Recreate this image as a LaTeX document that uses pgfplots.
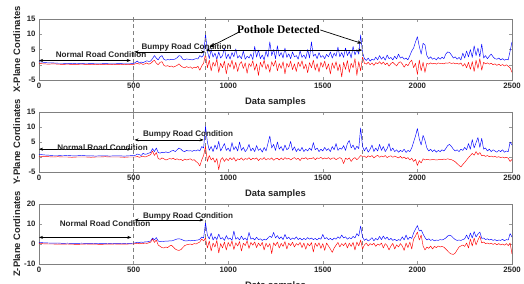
\documentclass[border=0pt]{standalone}
\usepackage{pgfplots}
\pgfplotsset{compat=1.18}
\usepackage{pgfplotstable}
\usepackage{fontspec}
\setmainfont{Liberation Sans}
\newfontfamily\timesfont{Liberation Serif}
\usetikzlibrary{arrows.meta}

\pgfplotstableread{
x xb xr yb yr zb zr
0 1.0 0.4 0.9 0.2 0.8 0.3
25 0.8 0.3 0.7 0.1 0.6 0.1
50 0.6 0.2 0.6 0.1 0.5 0.0
75 0.6 0.3 0.5 0.0 0.4 0.0
100 0.5 0.2 0.5 0.1 0.5 -0.1
125 0.5 0.1 0.4 0.0 0.3 -0.1
150 0.4 0.2 0.5 0.0 0.4 0.0
175 0.4 0.1 0.4 -0.1 0.3 -0.1
200 0.5 0.1 0.4 0.0 0.3 -0.2
225 0.4 0.2 0.5 0.0 0.4 -0.1
250 0.3 0.1 0.4 0.0 0.3 0.0
275 0.4 0.1 0.4 -0.1 0.3 -0.1
300 0.3 0.0 0.3 0.0 0.2 -0.1
325 0.3 0.1 0.4 0.0 0.3 -0.2
350 0.4 0.1 0.4 0.1 0.3 -0.1
375 0.3 0.0 0.3 0.0 0.2 -0.1
400 0.3 0.1 0.4 0.0 0.3 0.0
425 0.4 0.1 0.4 0.0 0.3 -0.1
450 0.3 0.0 0.3 -0.1 0.2 -0.1
475 0.3 0.1 0.4 0.0 0.3 0.0
500 0.4 0.1 0.5 0.0 0.4 0.0
510 0.8 0.3 0.6 0.0 0.6 0.2
520 1.2 0.5 1.0 0.2 0.9 0.4
530 0.6 0.2 0.8 -0.1 0.7 0.1
540 0.9 0.4 0.5 0.1 1.0 0.3
550 0.7 0.1 1.2 0.3 0.8 0.2
560 1.0 0.3 0.9 0.0 1.1 0.5
570 1.3 0.6 1.0 0.2 1.0 0.3
580 1.1 0.2 1.3 0.5 1.3 0.6
590 1.2 0.4 1.5 0.8 1.5 0.9
600 2.0 1.0 2.8 2.0 3.0 2.5
610 3.0 1.5 1.8 0.5 2.0 0.8
620 2.2 0.5 3.0 1.5 3.2 2.0
630 1.6 0.0 1.5 -0.5 1.5 -0.5
640 2.6 0.8 1.3 -0.8 1.2 -1.2
650 3.0 1.0 1.6 -0.3 1.4 -1.8
660 1.8 -0.2 1.4 -0.6 1.3 -2.0
670 1.5 -0.5 1.7 -1.0 1.5 -1.5
680 1.7 -0.3 1.5 -0.8 1.4 -1.8
690 1.6 -0.6 1.6 -0.5 1.6 -1.0
700 1.8 -0.4 2.0 -0.7 1.5 -0.6
710 1.7 -0.8 2.2 -0.4 1.8 -1.5
720 1.9 -0.5 1.8 -0.9 2.2 -2.5
730 2.3 -0.2 2.4 -0.6 2.5 -3.0
740 3.0 0.3 3.0 -1.0 2.6 -3.2
750 2.8 -0.4 2.6 -0.8 2.4 -2.8
760 1.8 -0.8 2.0 -1.2 2.0 -1.8
770 1.6 -1.0 1.8 -0.7 1.6 -0.8
780 1.9 -0.6 2.2 -1.0 1.5 -0.4
790 1.8 -0.9 2.0 -0.8 1.7 -0.2
800 1.7 -0.7 2.1 -0.6 1.6 0.0
810 1.6 -1.2 1.9 -1.1 1.8 -0.3
820 1.8 -0.8 2.2 -0.9 1.7 0.2
830 2.0 -1.0 2.0 -1.5 1.9 0.0
840 1.9 -0.5 2.4 -2.0 2.0 0.5
850 3.0 -1.8 2.0 -3.0 2.4 1.0
860 2.5 -0.4 3.5 -1.0 3.5 2.5
870 3.2 0.5 3.0 0.5 3.0 1.5
880 10.0 3.5 10.2 3.5 10.5 3.0
890 4.5 -1.0 5.0 -1.5 4.5 -2.0
900 2.0 1.5 2.2 0.5 2.5 1.5
910 5.0 -2.0 3.5 -1.0 5.5 -3.5
920 2.5 0.8 1.8 -0.3 2.0 0.5
930 3.8 -0.5 4.0 -1.8 3.6 -1.5
940 1.8 1.8 2.5 -0.5 2.2 1.8
950 4.2 -2.5 5.2 -4.2 5.0 -4.5
960 2.2 0.5 2.0 -1.0 2.5 0.2
970 3.0 -1.0 3.2 -0.2 3.2 -2.0
980 5.5 1.2 4.5 -1.5 1.8 1.0
990 2.0 -3.0 2.2 -0.5 4.2 -3.0
1000 3.5 0.5 3.0 -1.2 2.4 0.8
1010 1.8 -0.8 1.8 -0.3 3.0 -1.2
1020 4.0 1.5 4.8 -0.9 1.8 1.5
1030 2.6 -1.5 2.4 -0.2 6.5 -2.8
1040 5.2 0.8 3.5 -1.4 2.4 0.6
1050 2.2 -2.2 2.0 -0.6 3.2 -1.0
1060 3.0 0.2 5.0 -0.9 2.0 1.2
1070 2.0 1.0 2.2 -0.3 4.0 -3.5
1080 4.5 -1.2 3.2 -1.1 2.2 0.4
1090 1.8 0.6 1.8 -0.5 3.0 -0.8
1100 2.8 -2.8 2.6 -0.8 1.8 1.6
1110 2.2 0.4 4.2 -0.2 5.8 -2.2
1120 3.5 -0.6 2.0 -1.0 2.4 0.8
1130 1.7 1.3 3.0 -0.4 3.0 -0.6
1140 6.0 -1.8 1.8 -0.7 2.0 1.0
1150 2.5 0.3 3.8 -0.3 3.4 -1.8
1160 4.8 -3.5 2.2 -1.2 2.2 0.5
1170 2.0 0.8 2.8 -0.5 2.6 -1.0
1180 3.2 -0.8 1.6 -0.8 1.8 0.8
1190 1.6 1.5 3.2 -0.2 2.4 -3.0
1200 4.5 -1.5 2.0 -1.0 2.0 0.4
1210 2.5 0.2 4.5 -0.5 3.0 -1.5
1220 7.5 -2.5 7.0 -0.8 4.0 0.2
1230 3.0 1.0 3.0 -0.3 3.2 -4.8
1240 5.0 -0.5 4.2 -1.1 5.8 0.6
1250 2.0 1.4 2.2 -0.6 3.0 -0.8
1260 6.2 -2.0 5.0 -0.4 4.2 1.0
1270 2.8 0.4 2.6 -1.0 2.6 -2.0
1280 4.0 -1.2 3.5 -0.3 3.6 0.3
1290 2.2 1.0 2.0 -0.9 2.2 -1.2
1300 5.5 -3.0 4.0 -0.2 4.8 1.2
1310 2.4 0.5 2.4 -0.7 2.6 -2.5
1320 3.6 -0.8 3.0 -0.4 3.4 0.4
1330 2.0 1.2 5.2 -1.0 2.2 -0.8
1340 4.2 -1.6 2.2 -0.5 3.0 0.9
1350 2.6 0.3 3.4 -0.2 2.4 -1.5
1360 3.0 -2.2 1.8 -0.8 3.6 0.2
1370 1.8 0.9 2.8 -0.4 2.2 -0.6
1380 4.6 -0.6 2.0 -1.2 3.0 0.8
1390 2.4 1.3 3.2 -0.3 2.0 -1.8
1400 3.2 -1.4 1.8 -0.6 2.8 0.5
1410 2.0 0.2 2.6 -0.2 2.2 -2.6
1420 5.0 -2.6 2.0 -0.8 3.2 0.3
1430 2.2 0.7 3.0 -0.4 2.4 -1.0
1440 7.5 -1.0 2.2 -0.6 3.0 0.7
1450 2.8 1.5 4.8 -0.2 2.2 -4.0
1460 3.5 -1.8 2.4 -0.9 2.8 0.4
1470 2.0 0.4 3.0 -0.3 2.0 -1.2
1480 4.0 -2.4 1.8 -0.5 3.0 0.6
1490 2.4 0.8 2.6 -0.1 2.4 -2.2
1500 3.0 -0.8 2.0 -0.7 4.8 0.2
1510 2.0 1.2 3.2 -0.3 2.6 -3.2
1520 3.4 -1.5 2.2 -0.6 3.2 0.5
1530 2.6 0.3 2.8 -0.2 2.2 -1.0
1540 4.2 -3.0 1.8 -0.8 2.8 -2.5
1550 2.2 0.6 3.5 -0.4 2.0 -4.2
1560 3.8 -1.2 2.4 -0.3 3.0 -2.0
1570 2.8 1.0 4.5 -0.9 2.4 -0.6
1580 5.8 -2.0 2.2 -0.5 3.6 0.8
1590 2.6 0.2 3.0 -0.2 2.8 -1.5
1600 4.0 -4.0 2.6 -0.6 4.5 0.2
1610 2.4 0.8 3.8 -2.2 3.0 -0.8
1620 5.5 -1.5 2.2 -0.4 3.6 0.6
1630 3.0 1.4 4.5 -0.8 2.4 -2.0
1640 4.4 -2.5 5.5 -0.3 3.2 0.4
1650 2.2 0.5 3.0 -1.5 2.6 -1.2
1660 6.0 -1.0 4.0 -0.6 3.8 0.8
1670 3.2 2.0 2.4 -0.2 3.0 -3.0
1680 5.0 -3.5 3.6 -0.9 5.2 1.0
1690 3.5 1.0 2.8 -0.3 4.0 -1.0
1700 9.8 -2.0 9.7 0.5 9.0 2.0
1710 4.0 2.5 3.5 0.2 3.5 -2.5
1720 2.0 0.5 2.0 0.3 1.8 -0.5
1730 1.4 0.2 3.2 -0.2 2.6 0.5
1740 2.2 0.8 1.6 0.4 1.5 -1.0
1750 1.2 0.0 2.6 0.0 2.2 0.2
1760 1.8 0.6 4.0 0.5 3.2 -0.5
1770 1.5 -0.2 1.8 -0.3 1.6 0.4
1780 2.5 0.7 3.0 0.2 2.8 -1.2
1790 1.6 0.3 2.0 0.6 2.0 0.0
1800 3.0 1.0 4.2 -0.1 3.8 -0.6
1810 1.8 0.2 2.2 0.3 2.2 0.5
1820 2.6 0.9 3.5 0.0 4.0 -2.0
1830 1.5 0.0 1.8 0.5 2.4 0.2
1840 3.2 0.6 2.8 -0.2 3.5 -0.8
1850 2.0 -0.5 4.5 0.2 2.0 -3.0
1860 2.4 0.4 2.0 0.4 2.8 -1.0
1870 1.6 0.8 3.0 -0.1 1.8 0.3
1880 2.8 0.2 1.8 0.3 2.4 -2.5
1890 1.9 -0.4 2.4 0.0 1.6 -0.4
1900 3.5 0.6 1.6 -0.3 2.2 -1.5
1910 2.2 1.0 2.2 0.2 1.8 0.2
1920 2.6 0.3 1.8 -0.4 3.6 -1.0
1930 1.8 -0.8 2.6 0.0 2.0 -3.2
1940 2.2 0.2 1.5 -0.6 4.5 0.5
1950 1.6 -0.3 2.2 -0.2 2.2 -1.8
1960 3.0 0.8 1.8 -1.0 3.5 1.0
1970 4.5 1.5 3.0 -0.4 2.8 -2.5
1980 5.5 -1.0 5.0 -1.5 5.5 2.5
1990 7.5 0.5 7.0 -0.8 7.5 4.0
2000 9.2 -3.2 9.5 -2.8 9.2 6.0
2010 6.0 1.5 6.0 -1.2 6.5 2.0
2020 3.5 -2.0 4.0 -2.0 7.0 4.5
2030 7.0 0.8 7.2 -0.6 5.0 -1.0
2040 6.5 -2.5 5.5 -1.0 3.2 -3.0
2050 3.0 0.5 3.0 -0.8 2.0 -1.5
2060 2.0 0.2 2.0 -0.9 2.6 -2.2
2070 2.6 0.6 2.6 -1.0 1.8 -1.0
2080 1.8 0.3 1.8 -0.8 2.2 -2.5
2090 2.2 0.5 2.4 -0.9 1.6 -1.2
2100 1.6 0.2 1.6 -1.0 2.0 -1.8
2110 2.4 0.6 2.2 -0.9 1.8 -1.0
2120 1.8 0.4 1.8 -0.8 2.2 -1.5
2130 2.5 0.5 2.4 -0.9 2.0 -1.2
2140 2.0 0.3 2.0 -0.7 2.4 -1.6
2150 3.5 0.6 2.8 -0.8 3.0 -2.5
2160 4.2 0.5 3.8 -0.6 4.0 -3.5
2170 4.0 0.7 4.2 -0.8 4.4 -4.5
2180 3.2 0.4 3.5 -0.9 4.0 -5.0
2190 2.2 0.6 2.6 -1.2 3.0 -5.2
2200 2.6 0.3 2.0 -1.6 2.2 -4.5
2210 1.8 0.5 2.4 -2.2 1.8 -3.0
2220 2.4 0.2 1.8 -2.8 2.0 -1.5
2230 1.6 0.6 2.6 -3.3 1.8 -1.0
2240 3.8 -0.5 2.2 -2.5 2.2 -0.5
2250 2.2 0.4 3.2 -1.8 2.6 -1.2
2260 4.5 -1.0 2.4 -1.0 4.5 0.5
2270 2.6 0.8 4.5 -0.2 2.4 -2.0
2280 5.0 -1.5 2.6 0.5 5.5 2.5
2290 2.4 1.0 5.8 1.2 3.0 -1.0
2300 6.2 -2.2 3.0 0.6 6.2 3.0
2310 3.0 1.5 4.8 1.8 3.5 -0.5
2320 5.5 -1.2 6.5 0.8 5.0 2.0
2330 2.6 2.0 3.2 1.5 6.0 4.0
2340 6.8 -1.8 6.2 0.4 2.8 0.5
2350 2.2 0.8 2.6 0.6 3.0 1.0
2360 3.0 0.3 3.0 0.2 2.2 0.2
2370 2.0 0.6 2.0 0.5 2.6 0.5
2380 2.8 0.2 2.6 0.1 2.0 0.0
2390 3.5 0.5 1.8 0.3 2.4 0.4
2400 2.6 0.0 2.4 0.0 1.8 -0.2
2410 2.0 0.3 2.0 0.2 2.2 0.3
2420 1.8 -0.2 1.6 -0.1 1.6 -0.4
2430 2.2 0.2 2.2 0.1 2.0 0.2
2440 1.6 -0.3 1.8 -0.2 1.8 -0.5
2450 2.0 0.1 2.4 0.0 2.4 0.0
2460 1.5 -0.4 1.6 -0.3 1.6 -0.6
2470 1.8 0.0 2.0 -0.1 2.2 0.2
2480 1.6 -0.5 1.8 -0.4 2.0 -0.8
2490 4.5 -1.0 5.0 -1.5 5.2 0.5
2500 7.5 -2.5 4.0 -0.8 3.5 -5.0
}\data

\pgfplotsset{
  panel/.style={
    scale only axis, width=473bp, clip=false,
    xmin=0, xmax=2500, xtick={0,500,...,2500},
    scaled ticks=false,
    axis line style={draw=black!50, line width=0.5bp},
    tick style={draw=black!40, line width=0.5bp},
    tick align=inside, major tick length=3bp,
    xtick pos=both, ytick pos=both,
    /pgf/number format/assume math mode=true,
    /pgf/number format/1000 sep={},
    ticklabel style={font=\bfseries\fontsize{7.8bp}{9bp}\selectfont, text=black!85},
    label style={font=\bfseries\fontsize{9.4bp}{10bp}\selectfont, text=black!85},
    xlabel={Data samples},
    ylabel style={at={(axis description cs:-0.047,0.5)}, anchor=center, rotate=0},
  },
  bl/.style={blue, line width=0.45bp, line join=round},
  rd/.style={red, line width=0.45bp, line join=round},
}
\tikzset{
  ann/.style={font=\bfseries\fontsize{8.1bp}{9bp}\selectfont, text=black!85},
  dar/.style={{Stealth[length=4bp,width=3bp]}-{Stealth[length=4bp,width=3bp]}, black, line width=0.5bp},
  sar/.style={-{Stealth[length=4.5bp,width=3.5bp]}, black, line width=0.7bp},
  vdash/.style={black!50, line width=0.6bp, dash pattern=on 4bp off 3bp},
}

\begin{document}
\begin{tikzpicture}
\useasboundingbox (0,0) rectangle (524bp,284bp);

% Panel 1
\begin{axis}[panel, at={(39bp,204bp)}, height=61bp,
  ymin=-5, ymax=15, ytick={-5,0,5,10,15},
  xlabel style={at={(axis description cs:0.5,-0.36)}, anchor=center},
  ylabel={X-Plane Cordinates}]
\addplot[bl] table[x=x,y=xb]{\data};
\addplot[rd] table[x=x,y=xr]{\data};
\draw[vdash] (axis cs:500,15.7) -- (axis cs:500,-65.5);
\draw[vdash] (axis cs:880,15.7) -- (axis cs:880,-65.5);
\draw[vdash] (axis cs:1710,15.7) -- (axis cs:1710,-65.5);
\draw[dar] (axis cs:0,1.4) -- (axis cs:485,1.4);
\node[ann] at (axis cs:328,3.3) {Normal Road Condition};
\draw[dar] (axis cs:505,4.2) -- (axis cs:878,4.2);
\draw[dar] (axis cs:882,4.8) -- (axis cs:1708,4.8);
\node[ann] at (axis cs:780,5.6) {Bumpy Road Condition};
\node[font=\timesfont\bfseries\fontsize{11.5bp}{12bp}\selectfont] at (axis cs:1266,11.4) {Pothole Detected};
\draw[sar] (axis cs:1060,10.8) -- (axis cs:902,5.8);
\draw[sar] (axis cs:1487,11.4) -- (axis cs:1706,7.0);
\end{axis}

% Panel 2
\begin{axis}[panel, at={(39bp,112bp)}, height=60bp,
  ymin=-5, ymax=15, ytick={-5,0,5,10,15},
  xlabel style={at={(axis description cs:0.5,-0.36)}, anchor=center},
  ylabel={Y-Plane Cordinates}]
\addplot[bl] table[x=x,y=yb]{\data};
\addplot[rd] table[x=x,y=yr]{\data};
\draw[dar] (axis cs:0,2.6) -- (axis cs:488,2.6);
\node[ann] at (axis cs:336,3.2) {Normal Road Condition};
\draw[dar] (axis cs:505,5.7) -- (axis cs:870,5.7);
\node[ann] at (axis cs:788,7.6) {Bumpy Road Condition};
\end{axis}

% Panel 3
\begin{axis}[panel, at={(39bp,20bp)}, height=60bp,
  ymin=-10, ymax=20, ytick={-10,0,10,20},
  xlabel style={at={(axis description cs:0.5,-0.36)}, anchor=center},
  ylabel={Z-Plane Cordinates}]
\addplot[bl] table[x=x,y=zb]{\data};
\addplot[rd] table[x=x,y=zr]{\data};
\draw[dar] (axis cs:0,3.3) -- (axis cs:488,3.3);
\node[ann] at (axis cs:349,10.3) {Normal Road Condition};
\draw[dar] (axis cs:505,12) -- (axis cs:870,12);
\node[ann] at (axis cs:788,13.7) {Bumpy Road Condition};
\end{axis}
\end{tikzpicture}
\end{document}
